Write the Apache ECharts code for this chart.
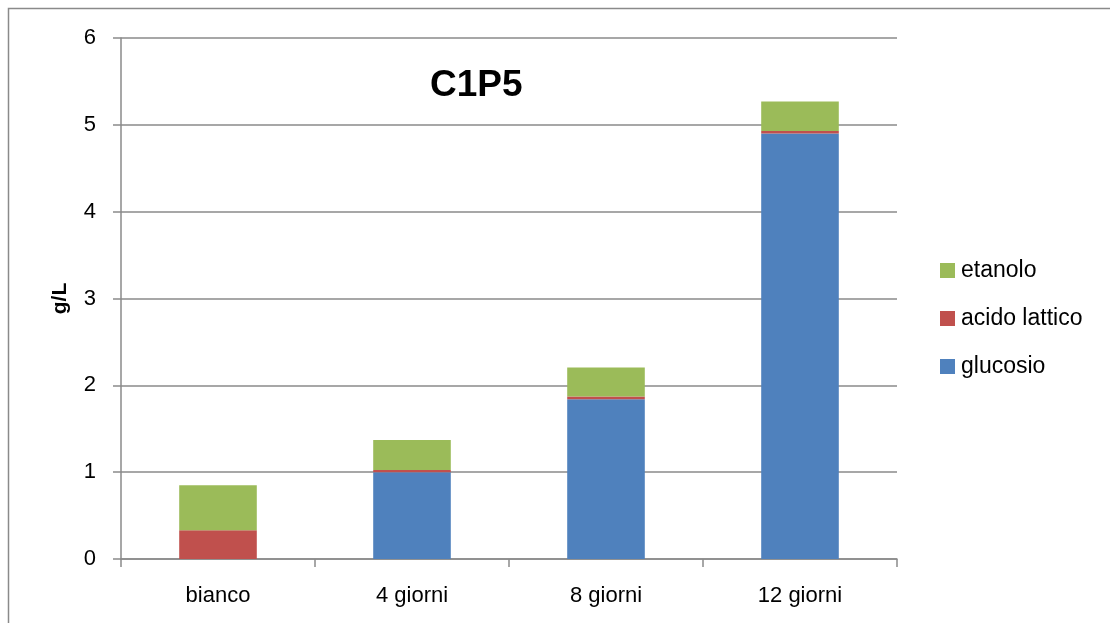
<!DOCTYPE html>
<html>
<head>
<meta charset="utf-8">
<script src="https://cdn.jsdelivr.net/npm/echarts@6/dist/echarts.min.js"></script>
<style>
  html, body { margin: 0; padding: 0; background: #fff; }
  #chart { width: 1110px; height: 623px; }
</style>
</head>
<body>
<div id="chart"></div>
<script>
// Sample stages and concentrations (g/L) per component
const categories = ['bianco', '4 giorni', '8 giorni', '12 giorni'];
const glucosio = [0, 1.00, 1.84, 4.90];
const acidoLattico = [0.33, 0.025, 0.03, 0.03];
const etanolo = [0.52, 0.345, 0.335, 0.34];
const yTicks = { min: 0, max: 6, interval: 1 };

const FONT = 'Liberation Sans';
const GRAY = '#8a8a8a';

const chart = echarts.init(document.getElementById('chart'), null, { renderer: 'canvas' });

chart.setOption({
  animation: false,
  backgroundColor: '#fff',
  textStyle: { fontFamily: FONT },
  title: {
    text: 'C1P5',
    left: 425,
    top: 62,
    textStyle: { fontFamily: FONT, fontSize: 37, fontWeight: 'bold', color: '#000' }
  },
  graphic: [{
    type: 'rect',
    shape: { x: 8.5, y: 8.5, width: 1200, height: 700 },
    style: { fill: 'none', stroke: GRAY, lineWidth: 1.5 },
    silent: true
  }],
  legend: {
    orient: 'vertical',
    left: 935,
    top: 254,
    itemWidth: 15,
    itemHeight: 15,
    itemGap: 25,
    icon: 'rect',
    data: ['etanolo', 'acido lattico', 'glucosio'],
    textStyle: { fontFamily: FONT, fontSize: 23, color: '#000', padding: [0, 0, 0, 1] }
  },
  grid: { left: 121, right: 213, top: 38, bottom: 64, containLabel: false },
  xAxis: {
    type: 'category',
    data: categories,
    axisLine: { lineStyle: { color: GRAY, width: 1.5 } },
    axisTick: { show: true, length: 8, alignWithLabel: false, lineStyle: { color: GRAY, width: 1.5 } },
    axisLabel: { fontFamily: FONT, fontSize: 22, color: '#000', margin: 26 }
  },
  yAxis: {
    type: 'value',
    min: yTicks.min,
    max: yTicks.max,
    interval: yTicks.interval,
    name: 'g/L',
    nameLocation: 'middle',
    nameGap: 50,
    nameRotate: 90,
    nameTextStyle: { fontFamily: FONT, fontSize: 21, fontWeight: 'bold', color: '#000' },
    axisLine: { show: true, lineStyle: { color: GRAY, width: 1.5 } },
    axisTick: { show: true, length: 8, lineStyle: { color: GRAY, width: 1.5 } },
    splitLine: { show: true, lineStyle: { color: GRAY, width: 1.5 } },
    axisLabel: { fontFamily: FONT, fontSize: 22, color: '#000', margin: 25 }
  },
  series: [
    { name: 'glucosio', type: 'bar', stack: 'tot', data: glucosio, barWidth: '40%', itemStyle: { color: '#4F81BD' } },
    { name: 'acido lattico', type: 'bar', stack: 'tot', data: acidoLattico, itemStyle: { color: '#C0504D' } },
    { name: 'etanolo', type: 'bar', stack: 'tot', data: etanolo, itemStyle: { color: '#9BBB59' } }
  ]
});
</script>
</body>
</html>
